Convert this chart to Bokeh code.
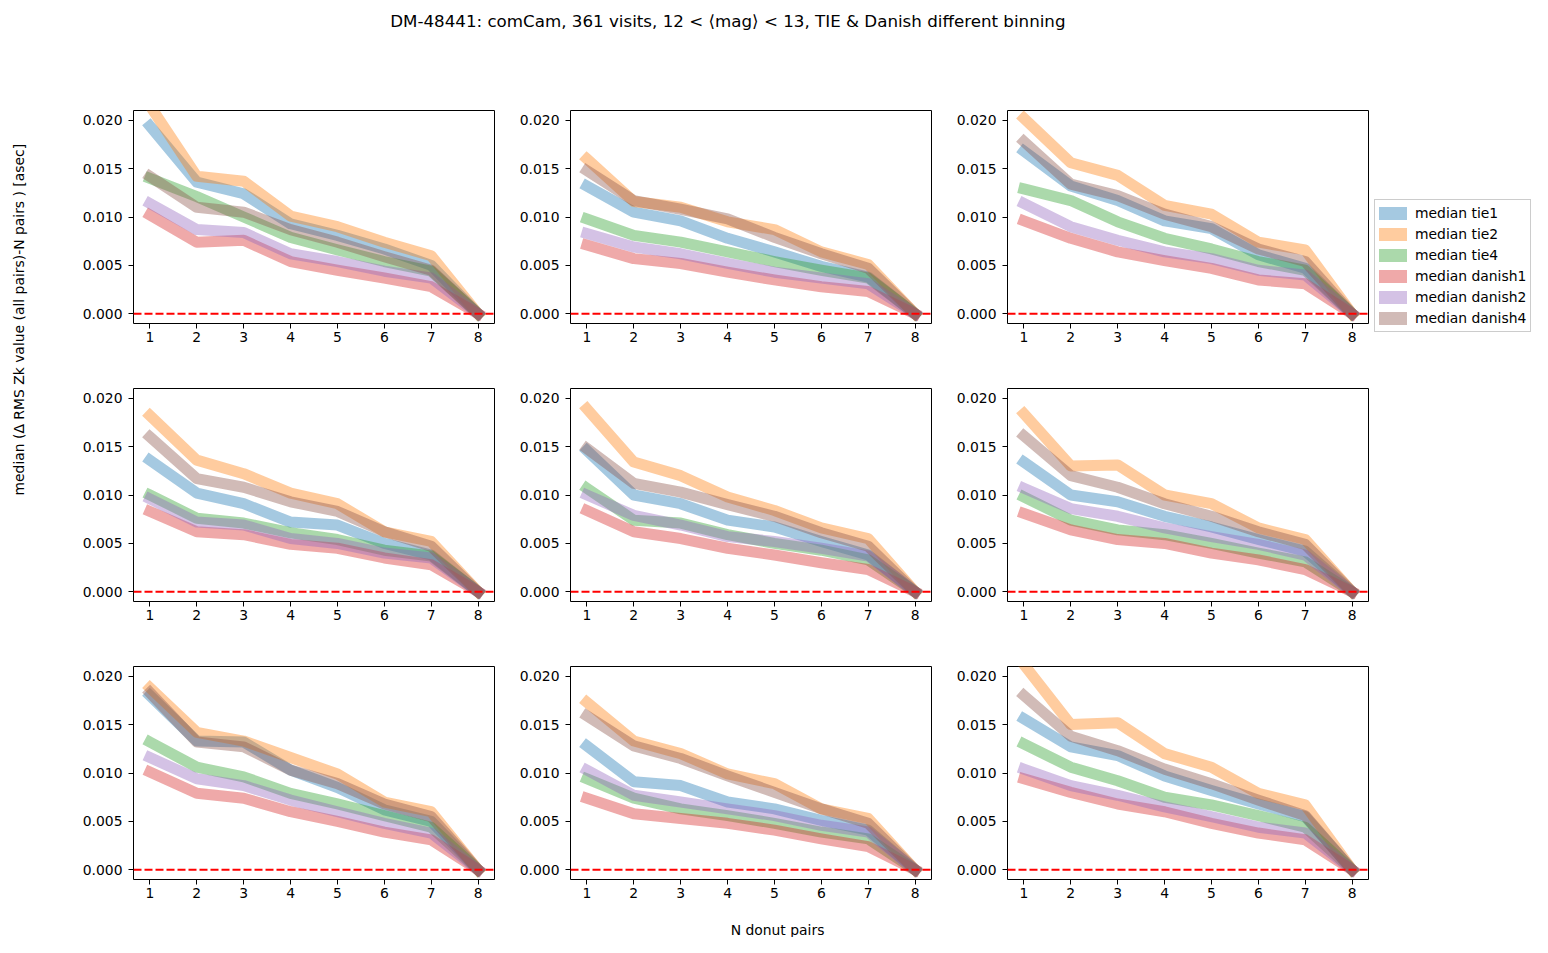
import math
from bokeh.plotting import figure
from bokeh.layouts import row, column
from bokeh.models import Range1d, FixedTicker, NumeralTickFormatter, Span, Legend, LegendItem
from bokeh.core.properties import value
from bokeh.embed import file_html
from bokeh.resources import INLINE

TITLE = "DM-48441:  comCam, 361 visits, 12 < \u27e8mag\u27e9 < 13, TIE & Danish different binning"
YLABEL = "median (\u0394 RMS Zk value (all pairs)-N pairs )  [asec]"
XLABEL = "N donut pairs"

N_PAIRS = [1, 2, 3, 4, 5, 6, 7, 8]
X_TICKS = [1, 2, 3, 4, 5, 6, 7, 8]
Y_TICKS = [0.0, 0.005, 0.010, 0.015, 0.020]
SERIES = ["median tie1", "median tie2", "median tie4",
          "median danish1", "median danish2", "median danish4"]
COLORS = ["#1f77b4", "#ff7f0e", "#2ca02c", "#d62728", "#9467bd", "#8c564b"]

# one row per panel (row-major order over the 3x3 grid)
tie1 = [
    [0.0194, 0.0136, 0.0124, 0.0093, 0.0081, 0.0067, 0.0050, 0.0],
    [0.0132, 0.0105, 0.0096, 0.0078, 0.0064, 0.0049, 0.0038, 0.0],
    [0.0168, 0.0132, 0.0117, 0.0096, 0.0088, 0.0061, 0.0047, 0.0],
    [0.0136, 0.0102, 0.0091, 0.0072, 0.0069, 0.0050, 0.0038, 0.0],
    [0.0146, 0.0100, 0.0091, 0.0074, 0.0067, 0.0052, 0.0038, 0.0],
    [0.0134, 0.0100, 0.0093, 0.0078, 0.0067, 0.0054, 0.0042, 0.0],
    [0.0180, 0.0133, 0.0132, 0.0103, 0.0085, 0.0062, 0.0050, 0.0],
    [0.0128, 0.0091, 0.0087, 0.0070, 0.0063, 0.0051, 0.0041, 0.0],
    [0.0156, 0.0127, 0.0118, 0.0097, 0.0082, 0.0068, 0.0055, 0.0],
]
tie2 = [
    [0.0215, 0.0142, 0.0137, 0.0101, 0.0090, 0.0074, 0.0060, 0.0],
    [0.0160, 0.0116, 0.0110, 0.0095, 0.0087, 0.0064, 0.0051, 0.0],
    [0.0202, 0.0156, 0.0143, 0.0112, 0.0103, 0.0074, 0.0066, 0.0],
    [0.0182, 0.0136, 0.0122, 0.0102, 0.0091, 0.0062, 0.0052, 0.0],
    [0.0189, 0.0134, 0.0120, 0.0098, 0.0084, 0.0066, 0.0055, 0.0],
    [0.0184, 0.0130, 0.0131, 0.0100, 0.0091, 0.0066, 0.0054, 0.0],
    [0.0188, 0.0142, 0.0133, 0.0116, 0.0099, 0.0070, 0.0060, 0.0],
    [0.0173, 0.0133, 0.0120, 0.0099, 0.0089, 0.0063, 0.0053, 0.0],
    [0.0212, 0.0150, 0.0152, 0.0120, 0.0106, 0.0079, 0.0067, 0.0],
]
tie4 = [
    [0.0140, 0.0121, 0.0100, 0.0079, 0.0066, 0.0054, 0.0044, 0.0],
    [0.0098, 0.0081, 0.0074, 0.0064, 0.0054, 0.0045, 0.0037, 0.0],
    [0.0129, 0.0117, 0.0095, 0.0078, 0.0067, 0.0054, 0.0045, 0.0],
    [0.0100, 0.0076, 0.0071, 0.0061, 0.0054, 0.0043, 0.0037, 0.0],
    [0.0107, 0.0074, 0.0071, 0.0059, 0.0050, 0.0043, 0.0033, 0.0],
    [0.0098, 0.0074, 0.0064, 0.0059, 0.0050, 0.0040, 0.0031, 0.0],
    [0.0132, 0.0106, 0.0096, 0.0079, 0.0068, 0.0056, 0.0044, 0.0],
    [0.0094, 0.0074, 0.0063, 0.0056, 0.0048, 0.0039, 0.0032, 0.0],
    [0.0130, 0.0106, 0.0092, 0.0075, 0.0067, 0.0056, 0.0044, 0.0],
]
danish1 = [
    [0.0102, 0.0074, 0.0076, 0.0054, 0.0045, 0.0037, 0.0028, 0.0],
    [0.0071, 0.0057, 0.0052, 0.0043, 0.0035, 0.0028, 0.0023, 0.0],
    [0.0096, 0.0078, 0.0064, 0.0055, 0.0047, 0.0035, 0.0031, 0.0],
    [0.0083, 0.0062, 0.0059, 0.0049, 0.0045, 0.0035, 0.0028, 0.0],
    [0.0084, 0.0062, 0.0055, 0.0045, 0.0038, 0.0030, 0.0023, 0.0],
    [0.0081, 0.0064, 0.0054, 0.0050, 0.0040, 0.0033, 0.0023, 0.0],
    [0.0101, 0.0079, 0.0074, 0.0060, 0.0050, 0.0039, 0.0031, 0.0],
    [0.0074, 0.0058, 0.0053, 0.0048, 0.0041, 0.0032, 0.0024, 0.0],
    [0.0094, 0.0080, 0.0068, 0.0060, 0.0048, 0.0038, 0.0031, 0.0],
]
danish2 = [
    [0.0114, 0.0087, 0.0084, 0.0062, 0.0054, 0.0044, 0.0037, 0.0],
    [0.0083, 0.0069, 0.0062, 0.0052, 0.0043, 0.0037, 0.0031, 0.0],
    [0.0114, 0.0090, 0.0076, 0.0064, 0.0057, 0.0045, 0.0040, 0.0],
    [0.0096, 0.0072, 0.0069, 0.0055, 0.0050, 0.0040, 0.0035, 0.0],
    [0.0100, 0.0079, 0.0069, 0.0057, 0.0052, 0.0045, 0.0037, 0.0],
    [0.0107, 0.0086, 0.0078, 0.0066, 0.0057, 0.0049, 0.0038, 0.0],
    [0.0116, 0.0094, 0.0087, 0.0072, 0.0060, 0.0048, 0.0038, 0.0],
    [0.0103, 0.0077, 0.0070, 0.0063, 0.0056, 0.0046, 0.0039, 0.0],
    [0.0104, 0.0087, 0.0077, 0.0065, 0.0055, 0.0044, 0.0038, 0.0],
]
danish4 = [
    [0.0142, 0.0110, 0.0105, 0.0087, 0.0074, 0.0059, 0.0045, 0.0],
    [0.0148, 0.0117, 0.0108, 0.0098, 0.0079, 0.0062, 0.0047, 0.0],
    [0.0178, 0.0134, 0.0122, 0.0103, 0.0090, 0.0067, 0.0054, 0.0],
    [0.0160, 0.0117, 0.0108, 0.0093, 0.0083, 0.0062, 0.0047, 0.0],
    [0.0148, 0.0112, 0.0103, 0.0090, 0.0078, 0.0061, 0.0047, 0.0],
    [0.0161, 0.0120, 0.0108, 0.0091, 0.0078, 0.0062, 0.0049, 0.0],
    [0.0183, 0.0132, 0.0127, 0.0103, 0.0089, 0.0068, 0.0055, 0.0],
    [0.0159, 0.0128, 0.0115, 0.0097, 0.0080, 0.0063, 0.0048, 0.0],
    [0.0180, 0.0138, 0.0123, 0.0104, 0.0089, 0.0072, 0.0056, 0.0],
]
ALL_SERIES = [tie1, tie2, tie4, danish1, danish2, danish4]

FONT = "DejaVu Sans"
TICK_FS = "13.9px"

FRAME_W, FRAME_H = 363, 213
BORDER_L, BORDER_R = 52, 22
BORDER_T, BORDER_B = 35, 30
LAST_COL_R = 4
ROW_H = BORDER_T + FRAME_H + BORDER_B
GRID_H = 3 * ROW_H
YLAB_W = 79
TITLE_H = 75
XLAB_H = 28
TOTAL_W = 1532


def make_panel(k, right_border):
    p = figure(width=BORDER_L + FRAME_W + right_border, height=ROW_H,
               x_range=Range1d(0.65, 8.35), y_range=Range1d(-0.001, 0.021),
               output_backend="svg", toolbar_location=None, title=None,
               min_border_left=BORDER_L, min_border_right=right_border,
               min_border_top=BORDER_T, min_border_bottom=BORDER_B,
               background_fill_color="white", border_fill_color="white")
    p.outline_line_color = "black"
    p.outline_line_alpha = 1.0
    p.outline_line_width = 1
    p.xgrid.visible = False
    p.ygrid.visible = False
    p.xaxis.ticker = FixedTicker(ticks=X_TICKS, minor_ticks=[])
    p.yaxis.ticker = FixedTicker(ticks=Y_TICKS, minor_ticks=[])
    p.yaxis.formatter = NumeralTickFormatter(format="0.000")
    for ax in (p.xaxis[0], p.yaxis[0]):
        ax.axis_line_color = None
        ax.major_tick_line_color = "black"
        ax.major_tick_line_width = 1
        ax.major_tick_out = 5
        ax.major_tick_in = 0
        ax.minor_tick_line_color = None
        ax.major_label_text_font = FONT
        ax.major_label_text_font_size = TICK_FS
        ax.major_label_text_color = "black"
    p.xaxis[0].major_label_standoff = 3
    p.yaxis[0].major_label_standoff = 6
    for data, color in zip(ALL_SERIES, COLORS):
        p.line(N_PAIRS, data[k], line_color=color, line_alpha=0.4,
               line_width=11, line_join="round", line_cap="square")
    p.add_layout(Span(location=0, dimension="width", line_color="red",
                      line_width=2, line_dash="8 3"))
    return p


def text_fig(w, h):
    f = figure(width=w, height=h, x_range=Range1d(0, w), y_range=Range1d(0, h),
               output_backend="svg", toolbar_location=None, title=None,
               x_axis_type=None, y_axis_type=None, min_border=0,
               outline_line_color=None, background_fill_color="white",
               border_fill_color="white")
    return f


# title
title_fig = text_fig(TOTAL_W, TITLE_H)
title_fig.text(x=[730], y=[TITLE_H - 20], text=[TITLE], text_font=value(FONT),
               text_font_size=value("16.7px"), text_align="center",
               text_baseline="middle", text_color="black")

# y label
ylab_fig = text_fig(YLAB_W, GRID_H)
ylab_fig.text(x=[18], y=[GRID_H - (317 - TITLE_H)], text=[YLABEL], angle=math.pi / 2,
              text_font=value(FONT), text_font_size=value(TICK_FS),
              text_align="center", text_baseline="middle", text_color="black")

# x label
xlab_fig = text_fig(TOTAL_W, XLAB_H)
xlab_fig.text(x=[777], y=[8], text=[XLABEL], text_font=value(FONT),
              text_font_size=value(TICK_FS), text_align="center",
              text_baseline="middle", text_color="black")

# legend figure (full grid height, to the right of the grid)
GRID_W = 2 * (BORDER_L + FRAME_W + BORDER_R) + BORDER_L + FRAME_W + LAST_COL_R
LEG_W = TOTAL_W - YLAB_W - GRID_W
leg_fig = text_fig(LEG_W, GRID_H)
items = []
for name, color in zip(SERIES, COLORS):
    r = leg_fig.line([-20, -10], [-20, -10], line_color=color, line_alpha=0.4,
                     line_width=13, line_cap="square")
    items.append(LegendItem(label=name, renderers=[r]))
legend = Legend(items=items, location=(2, TITLE_H + GRID_H - 332),
                glyph_width=28, glyph_height=18,
                label_height=18, spacing=3, padding=4, margin=0, label_standoff=8,
                label_text_font=FONT, label_text_font_size=TICK_FS,
                label_text_color="black", border_line_color="#cccccc",
                border_line_alpha=1.0, border_line_width=1,
                background_fill_color="white", background_fill_alpha=0.8)
leg_fig.add_layout(legend)

rows = []
for r_i in range(3):
    figs = []
    for c_i in range(3):
        k = r_i * 3 + c_i
        rb = LAST_COL_R if c_i == 2 else BORDER_R
        figs.append(make_panel(k, rb))
    rows.append(row(*figs, spacing=0))

grid = column(*rows, spacing=0)
layout = column(title_fig, row(ylab_fig, grid, leg_fig, spacing=0), xlab_fig, spacing=0)

open("out.html", "w").write(file_html(layout, INLINE))
